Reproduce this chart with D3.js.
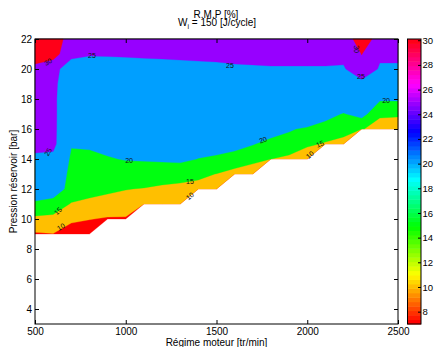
<!DOCTYPE html>
<html><head><meta charset="utf-8">
<script src="https://cdn.jsdelivr.net/npm/d3@7"></script>
<style>
body{margin:0;background:#fff}
svg{display:block}
text{font-family:"Liberation Sans",Arial,Helvetica,sans-serif}
</style>
</head><body>
<svg id="chart" width="434" height="347"></svg>
<script>
// ---------------- data ----------------
const rpm = [500,600,700,800,900,1000,1100,1200,1300,1400,1500,1600,1700,1800,1900,2000,2100,2200,2300,2400,2500];
const pressure = [9,10,11,12,13,14,15,16,17,18,19,20,21,22];
const _ = null;
// R.M.P [%] values, one row per pressure (9 .. 22 bar), one column per engine speed
const rmp09 = [9.5,9.9,8.5,8.0,_,_,_,_,_,_,_,_,_,_,_,_,_,_,_,_,_];
const rmp10 = [14,13.5,10.55,10.1,9.7,9.6,_,_,_,_,_,_,_,_,_,_,_,_,_,_,_];
const rmp11 = [19,18.5,14.6,13.4,12,12.27,10.5,11.5,11.8,_,_,_,_,_,_,_,_,_,_,_,_];
const rmp12 = [24,22.25,18.6,17.4,16.5,15.2,14.7,14.0,13.6,13.3,11.5,_,_,_,_,_,_,_,_,_,_];
const rmp13 = [24.3,23,19.0,18.3,18.3,17.5,18.8,17.7,17.1,16.1,14.9,13.5,12.5,_,_,_,_,_,_,_,_];
const rmp14 = [24.6,24,19.5,19.2,19.6,20.3,20.2,20.6,21.0,19.9,19.2,17.6,16.2,15.05,13.6,11.5,_,_,_,_,_];
const rmp15 = [25.6,26,20.2,20.5,21.6,21.5,21.5,21.8,22,21.9,22.2,22.1,20.3,18.2,18.8,15.9,14.5,13.5,_,_,_];
const rmp16 = [26.2,26,20.8,21,22,22.3,22.5,22.6,22.8,22.8,23.2,23.2,22.5,22.7,20.3,19.5,18.3,16.7,15.5,12,12.5];
const rmp17 = [26.8,26,21,21.5,22.2,22.5,22.8,23,23.2,23.3,23.5,23.6,23.6,23.5,23,23.3,21.5,19.7,21.7,16.1,15.6];
const rmp18 = [27.5,26,21,21.5,22.2,22.5,22.8,23,23.2,23.3,23.5,23.6,23.6,23.7,23.7,23.8,23.5,24,22.5,20.6,20.66];
const rmp19 = [28.2,26.2,21.2,21.5,22.2,22.5,22.8,23,23.2,23.3,23.5,23.6,23.6,24,24,24.1,24,24.3,23.5,22.5,22.5];
const rmp20 = [29.2,27,21.6,22.5,23,23.2,23.5,23.6,23.8,24,24.2,24.3,24.4,24.6,24.6,24.6,24.6,24.5,28.5,24.5,24.4];
const rmp21 = [31.6,31.8,26.7,25.4,25.4,25.5,25.6,25.7,25.8,25.9,25.9,26.4,26.6,26.6,26.6,26.6,26.6,26.3,30.1,25.75,25.9];
const rmp22 = [33,32.5,28,27,27,27,27,27,27.2,27.3,27.5,27.8,28,28,28,28,28.2,28.3,31.6,28.8,28];
const rows = [rmp09,rmp10,rmp11,rmp12,rmp13,rmp14,rmp15,rmp16,rmp17,rmp18,rmp19,rmp20,rmp21,rmp22];

const levels = [10,15,20,25,30];
const xTicks = [500,1000,1500,2000,2500];
const yTicks = [4,6,8,10,12,14,16,18,20,22];
const cbTicks = [8,10,12,14,16,18,20,22,24,26,28,30];
const cRange = [7,30.1];
// contour labels (value, rpm, pressure, angle)
const labelText  = ["30","25","25","30","25","25","20","20","20","15","15","15","10","10","10"];
const labelRpm   = [572,814,1574,2269,2296,572,1018,1756,2434,627,1354,2070,643,1354,2015];
const labelP     = [20.47,20.87,20.2,21.33,19.47,14.47,13.93,15.27,17.93,10.53,12.47,15.0,9.47,11.53,14.27];
const labelAngle = [-30,0,0,90,0,-60,0,-20,0,-45,0,-20,-30,-40,-40];

// ---------------- drawing ----------------
const svg = d3.select("#chart");
const x = d3.scaleLinear().domain([500,2500]).range([35,398]);
const y = d3.scaleLinear().domain([3,22]).range([324,39]);

// hsv colormap, 64 entries, like MATLAB
const M = 64;
function cmap(v){
  let idx = Math.floor((v-cRange[0])/(cRange[1]-cRange[0])*M);
  idx = Math.max(0, Math.min(M-1, idx));
  return d3.hsl(idx/M*360, 1, 0.5).formatHex();
}

// grid padded with a very low sentinel (NaN region)
const nx = rpm.length, ny = pressure.length;
const dx = nx+2, dy = ny+2;
const SENT = -1e7;
const grid = new Array(dx*dy).fill(SENT);
rows.forEach((row,j)=>row.forEach((v,i)=>{ if(v!=null) grid[(j+1)*dx+(i+1)] = v; }));
const gx = d3.scaleLinear().domain([1.5, nx+0.5]).range([x(rpm[0]), x(rpm[nx-1])]);
const gy = d3.scaleLinear().domain([1.5, ny+0.5]).range([y(pressure[0]), y(pressure[ny-1])]);
const thresholds = [0].concat(levels);
const contours = d3.contours().size([dx,dy]).thresholds(thresholds)(grid);
const proj = d3.geoTransform({point(px,py){ this.stream.point(gx(px), gy(py)); }});
const path = d3.geoPath(proj);

svg.append("g").selectAll("path").data(contours).join("path")
  .attr("d", path)
  .attr("fill", d => d.value===0 ? cmap(cRange[0]) : cmap(d.value))
  .attr("stroke", d => d.value===0 ? cmap(cRange[0]) : cmap(d.value))
  .attr("stroke-width", 0.3);

// contour labels
svg.append("g").selectAll("text").data(labelText).join("text")
  .attr("transform", (d,i)=>`translate(${x(labelRpm[i])},${y(labelP[i])}) rotate(${labelAngle[i]})`)
  .attr("text-anchor","middle").attr("dy","0.35em")
  .attr("font-size","7px").attr("fill","#111")
  .text(d=>d);

// axes (ticks inward, box)
const fs = "10px";
const gB = svg.append("g").attr("transform",`translate(0,${y(3)})`)
  .call(d3.axisBottom(x).tickValues(xTicks).tickFormat(d3.format("d")).tickSizeInner(-4).tickSizeOuter(0).tickPadding(4));
const gT = svg.append("g").attr("transform",`translate(0,${y(22)})`)
  .call(d3.axisTop(x).tickValues(xTicks).tickSizeInner(-4).tickSizeOuter(0).tickFormat(""));
const gL = svg.append("g").attr("transform",`translate(${x(500)},0)`)
  .call(d3.axisLeft(y).tickValues(yTicks).tickFormat(d3.format("d")).tickSizeInner(-4).tickSizeOuter(0).tickPadding(3));
const gR = svg.append("g").attr("transform",`translate(${x(2500)},0)`)
  .call(d3.axisRight(y).tickValues(yTicks).tickSizeInner(-4).tickSizeOuter(0).tickFormat(""));
[gB,gT,gL,gR].forEach(g=>{
  g.select(".domain").remove();
  g.selectAll("line").attr("stroke","#000");
  g.selectAll("text").attr("font-size",fs).attr("fill","#000").attr("font-family",'"Liberation Sans",Arial,sans-serif');
});
svg.append("rect").attr("x",x(500)).attr("y",y(22)).attr("width",x(2500)-x(500)).attr("height",y(3)-y(22))
  .attr("fill","none").attr("stroke","#000").attr("stroke-width",1);

// axis titles
svg.append("text").attr("x",(x(500)+x(2500))/2).attr("y",345.5).attr("text-anchor","middle")
  .attr("font-size",fs).text("Régime moteur [tr/min]");
svg.append("text").attr("transform",`translate(17,${(y(3)+y(22))/2}) rotate(-90)`).attr("text-anchor","middle")
  .attr("font-size",fs).text("Pression réservoir [bar]");

// title
svg.append("text").attr("x",216).attr("y",18).attr("text-anchor","middle").attr("font-size",fs).text("R.M.P [%]");
const t2 = svg.append("text").attr("x",217).attr("y",26).attr("text-anchor","middle").attr("font-size",fs);
t2.append("tspan").text("W");
t2.append("tspan").attr("font-size","7px").attr("dy",3).text("i");
t2.append("tspan").attr("dy",-3).text(" = 150 [J/cycle]");

// colorbar
const cb = d3.scaleLinear().domain(cRange).range([y(3), y(22)]);
const cbX = 407.5, cbW = 13.5;
const steps = d3.range(M);
svg.append("g").selectAll("rect").data(steps).join("rect")
  .attr("x",cbX).attr("width",cbW)
  .attr("y",k=>cb(cRange[0]+(k+1)*(cRange[1]-cRange[0])/M))
  .attr("height",k=>cb(cRange[0]+k*(cRange[1]-cRange[0])/M)-cb(cRange[0]+(k+1)*(cRange[1]-cRange[0])/M)+0.5)
  .attr("fill",k=>d3.hsl(k/M*360,1,0.5).formatHex());
svg.append("rect").attr("x",cbX).attr("y",cb(cRange[1])).attr("width",cbW).attr("height",cb(cRange[0])-cb(cRange[1]))
  .attr("fill","none").attr("stroke","#000").attr("stroke-width",1);
const gC = svg.append("g").attr("transform",`translate(${cbX+cbW},0)`)
  .call(d3.axisRight(cb).tickValues(cbTicks).tickSizeInner(-3).tickSizeOuter(0).tickPadding(1.5));
gC.select(".domain").remove();
gC.selectAll("line").attr("stroke","#000");
gC.selectAll("text").attr("font-size","9.5px").attr("fill","#000").attr("font-family",'"Liberation Sans",Arial,sans-serif');
</script>
</body></html>
